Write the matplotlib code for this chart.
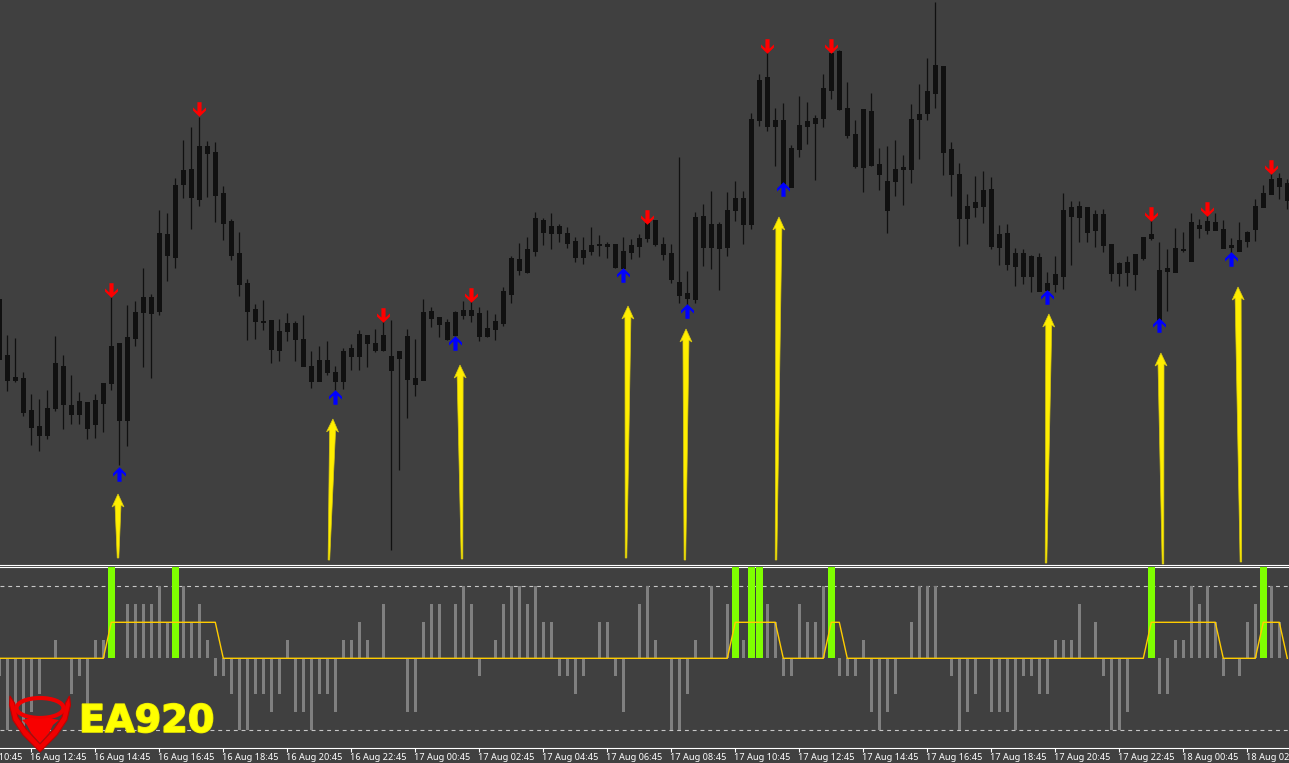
import numpy as np
import matplotlib
matplotlib.use("Agg")
import matplotlib.pyplot as plt
import matplotlib.patheffects as pe
from matplotlib.path import Path
from matplotlib.patches import Ellipse, Polygon

W, H = 1289, 763
BG = "#404040"
CANDLE = "#101010"

# price readings, measured downward from the top of the chart (one bar every 15 min)
wick_high = [
    299, 335, 338, 372, 394, 399, 390, 336, 355, 375,
    392, 402, 394, 383, 297, 343, 305, 301, 268, 294,
    210, 213, 178, 140, 127, 117, 141, 142, 186, 219,
    232, 279, 304, 300, 320, 319, 313, 321, 315, 351,
    346, 341, 366, 348, 344, 330, 335, 329, 320, 320,
    351, 329, 339, 299, 307, 317, 319, 311, 301, 297,
    307, 310, 314, 287, 256, 243, 237, 212, 218, 213,
    224, 227, 237, 237, 227, 235, 242, 244, 237, 239,
    234, 223, 220, 237, 244, 157, 271, 212, 204, 191,
    222, 192, 181, 191, 113, 74, 52, 108, 103, 145,
    96, 102, 115, 74, 52, 50, 82, 120, 109, 93,
    148, 146, 140, 155, 104, 84, 58, 2, 66, 142,
    163, 194, 176, 171, 177, 225, 224, 248, 249, 255,
    253, 272, 256, 193, 201, 201, 207, 210, 209, 244,
    262, 256, 254, 237, 220, 242, 249, 228, 232, 213,
    219, 215, 213, 220, 238, 222, 231, 199, 185, 173,
    173, 179,
]
body_top = [
    299, 355, 377, 378, 410, 426, 408, 363, 366, 405,
    401, 402, 400, 383, 346, 343, 337, 312, 297, 297,
    233, 234, 185, 170, 169, 146, 146, 152, 193, 221,
    253, 283, 309, 321, 320, 331, 323, 323, 339, 366,
    360, 360, 372, 351, 348, 334, 335, 343, 335, 356,
    351, 336, 378, 312, 311, 317, 322, 312, 310, 310,
    313, 328, 321, 291, 258, 259, 249, 218, 220, 226,
    226, 233, 241, 250, 245, 244, 244, 244, 251, 245,
    238, 223, 220, 244, 253, 282, 293, 217, 216, 224,
    224, 210, 198, 198, 119, 80, 77, 120, 120, 148,
    125, 121, 118, 88, 53, 51, 108, 134, 109, 111,
    164, 181, 169, 167, 119, 114, 91, 65, 66, 149,
    174, 206, 202, 190, 189, 234, 233, 253, 253, 256,
    257, 283, 274, 210, 207, 206, 207, 214, 214, 244,
    263, 262, 254, 237, 234, 270, 268, 248, 249, 222,
    225, 221, 222, 229, 245, 240, 232, 206, 193, 179,
    178, 183,
]
body_bottom = [
    359, 380, 380, 412, 427, 435, 435, 408, 404, 414,
    414, 428, 424, 403, 383, 420, 420, 338, 312, 313,
    311, 255, 257, 184, 197, 199, 153, 195, 223, 255,
    284, 311, 321, 322, 349, 350, 331, 339, 366, 381,
    381, 372, 381, 381, 356, 356, 343, 350, 350, 370,
    358, 379, 384, 380, 318, 324, 339, 335, 315, 315,
    336, 336, 329, 323, 294, 270, 272, 251, 232, 233,
    233, 243, 257, 257, 251, 245, 246, 267, 268, 252,
    246, 238, 244, 254, 279, 295, 298, 299, 247, 247,
    248, 247, 210, 224, 224, 120, 126, 126, 185, 187,
    149, 126, 123, 118, 90, 109, 135, 166, 167, 165,
    174, 210, 181, 169, 169, 119, 113, 93, 152, 174,
    218, 218, 207, 206, 246, 247, 264, 266, 276, 276,
    291, 290, 284, 276, 216, 217, 232, 230, 245, 273,
    273, 272, 274, 258, 238, 320, 271, 272, 250, 261,
    228, 230, 230, 248, 247, 251, 241, 229, 207, 194,
    186, 200,
]
wick_low = [
    359, 391, 382, 416, 445, 451, 439, 411, 429, 424,
    424, 439, 438, 432, 390, 465, 446, 346, 367, 378,
    315, 281, 268, 198, 229, 206, 197, 222, 240, 260,
    296, 340, 339, 330, 363, 361, 341, 361, 366, 388,
    381, 375, 390, 389, 370, 370, 367, 352, 351, 550,
    470, 418, 396, 380, 327, 337, 340, 336, 319, 322,
    341, 337, 340, 326, 303, 275, 273, 256, 245, 249,
    242, 248, 262, 264, 255, 256, 258, 268, 268, 259,
    257, 242, 246, 260, 283, 303, 305, 303, 266, 269,
    290, 256, 221, 244, 229, 126, 131, 166, 185, 187,
    157, 144, 180, 127, 99, 110, 138, 168, 192, 166,
    190, 233, 196, 205, 183, 159, 120, 108, 175, 196,
    246, 244, 217, 223, 249, 265, 270, 286, 284, 292,
    291, 292, 292, 289, 265, 242, 242, 247, 252, 281,
    286, 286, 290, 260, 240, 320, 311, 272, 252, 261,
    238, 234, 230, 248, 253, 251, 247, 241, 207, 194,
    199, 209,
]

# signal arrows
sell_bars = [14, 25, 48, 59, 81, 96, 104, 144, 151, 159]
sell_levels = [290, 109, 315, 295, 217, 46, 46, 214, 209, 167]
buy_bars = [15, 42, 57, 78, 86, 98, 131, 145, 154]
buy_levels = [474, 397, 343, 275, 311, 189, 297, 325, 259]

# yellow hand drawn arrows
note_tail_bar = [14.84, 41.2, 57.84, 78.34, 85.7, 97.09, 130.84, 145.46, 155.2]
note_tail_level = [558, 560, 559, 558, 560, 560, 563, 564, 562]
note_tip_bar = [14.84, 41.7, 57.59, 78.59, 85.84, 97.46, 131.2, 145.2, 154.84]
note_tip_level = [494, 419, 365, 306, 329, 217, 314, 353, 287]

# lower panel
hist_values = [
    -1, -4, -3, -4, -3, -2, 0, 1, 0, -2,
    -1, -3, 1, 1, 0, 0, 3, 3, 3, 3,
    4, 2, 0, 4, 2, 3, 1, -1, -1, -2,
    -4, -4, -2, -2, -3, -2, 1, -3, -3, -4,
    -2, -2, -3, 1, 1, 2, 1, 0, 3, 0,
    0, -3, -3, 2, 3, 3, 0, 3, 4, 3,
    -1, 0, 1, 3, 4, 4, 3, 4, 2, 2,
    -1, -1, -2, -1, 0, 2, 2, -1, -3, 0,
    3, 4, 1, 0, -4, -4, -2, 1, 0, 4,
    0, 3, 0, 1, 0, 0, 3, 2, -1, -1,
    3, 2, 2, 4, 0, -1, -1, -1, 1, -3,
    -4, -3, -2, 0, 2, 4, 4, 4, 0, -1,
    -4, -3, -2, 0, -3, -3, -3, -4, -1, -1,
    -2, -2, 1, 1, 1, 3, 0, 2, -1, -4,
    -4, -3, 0, 0, 0, -2, -2, 1, 1, 4,
    3, 4, 2, -1, 0, -1, 2, 3, 0, 4,
    2, 0,
]
trend_line = [
    0, 0, 0, 0, 0, 0, 0, 0, 0, 0,
    0, 0, 0, 0, 2, 2, 2, 2, 2, 2,
    2, 2, 2, 2, 2, 2, 2, 2, 0, 0,
    0, 0, 0, 0, 0, 0, 0, 0, 0, 0,
    0, 0, 0, 0, 0, 0, 0, 0, 0, 0,
    0, 0, 0, 0, 0, 0, 0, 0, 0, 0,
    0, 0, 0, 0, 0, 0, 0, 0, 0, 0,
    0, 0, 0, 0, 0, 0, 0, 0, 0, 0,
    0, 0, 0, 0, 0, 0, 0, 0, 0, 0,
    0, 0, 2, 2, 2, 2, 2, 2, 0, 0,
    0, 0, 0, 0, 2, 2, 0, 0, 0, 0,
    0, 0, 0, 0, 0, 0, 0, 0, 0, 0,
    0, 0, 0, 0, 0, 0, 0, 0, 0, 0,
    0, 0, 0, 0, 0, 0, 0, 0, 0, 0,
    0, 0, 0, 0, 2, 2, 2, 2, 2, 2,
    2, 2, 2, 0, 0, 0, 0, 0, 2, 2,
    2, 0,
]
signal_bars = [14, 22, 92, 94, 95, 104, 144, 158]
signal_height = 5.2
band_levels = [4, -4]

tick_bars = [-4, 4, 12, 20, 28, 36, 44, 52, 60, 68, 76,
             84, 92, 100, 108, 116, 124, 132, 140, 148, 156]
tick_labels = ["16 Aug 10:45", "16 Aug 12:45", "16 Aug 14:45", "16 Aug 16:45",
               "16 Aug 18:45", "16 Aug 20:45", "16 Aug 22:45", "17 Aug 00:45",
               "17 Aug 02:45", "17 Aug 04:45", "17 Aug 06:45", "17 Aug 08:45",
               "17 Aug 10:45", "17 Aug 12:45", "17 Aug 14:45", "17 Aug 16:45",
               "17 Aug 18:45", "17 Aug 20:45", "17 Aug 22:45", "18 Aug 00:45",
               "18 Aug 02:45"]

bars = np.arange(len(wick_high))
body_top = np.array(body_top)
body_bottom = np.array(body_bottom)
hist_values = np.array(hist_values)

fig = plt.figure(figsize=(W / 100, H / 100), dpi=100, facecolor=BG)
plt.rcParams["font.family"] = ["Noto Sans", "DejaVu Sans"]

x_range = ((0 + 0.7) / 8, (W + 0.7) / 8)

# ---- candles
ax = fig.add_axes([0, 1 - 565 / H, 1, 565 / H], facecolor=BG)
ax.set_xlim(*x_range)
ax.set_ylim(565, 0)
ax.vlines(bars, wick_high, wick_low, color=CANDLE, lw=0.9, zorder=2)
ax.bar(bars, body_bottom - body_top + 1, 0.63, bottom=body_top, color=CANDLE, lw=0, zorder=3)

# up/down arrow glyph
up_verts = [(0, 7), (6.2, 1), (6.2, -2), (2, 2), (2, -7), (-2, -7), (-2, 2), (-6.2, -2), (-6.2, 1), (0, 7)]
up_arrow = Path(up_verts, closed=True)
down_arrow = Path([(x, -y) for x, y in up_verts], closed=True)
ax.plot(sell_bars, sell_levels, ls="none", marker=down_arrow, ms=10.5, color="#ff0000", mew=0, zorder=4)
ax.plot(buy_bars, buy_levels, ls="none", marker=up_arrow, ms=10.5, color="#0000ff", mew=0, zorder=4)

# yellow arrows, widths given in pixels (8 px per bar)
for x0, y0, x1, y1 in zip(note_tail_bar, note_tail_level, note_tip_bar, note_tip_level):
    dx, dy = (x1 - x0) * 8, y1 - y0
    n = np.hypot(dx, dy)
    ux, uy = dx / n, dy / n
    px, py = -uy, ux
    along = [0, n - 11, n - 13, n, n - 13, n - 11, 0]
    side = [-0.8, -3, -6, 0, 6, 3, 0.8]
    xs = [x0 + (a * ux + s * px) / 8 for a, s in zip(along, side)]
    ys = [y0 + a * uy + s * py for a, s in zip(along, side)]
    ax.fill(xs, ys, color="#ffee00", ec="#d8c810", lw=0.5, zorder=5)

ax.set_xticks([])
ax.set_yticks([])
for s in ["top", "left", "right"]:
    ax.spines[s].set_visible(False)
ax.spines["bottom"].set_color("white")
ax.spines["bottom"].set_linewidth(0.8)

# ---- indicator panel
ax2 = fig.add_axes([0, 1 - 748 / H, 1, (748 - 567) / H], facecolor=BG)
ax2.set_xlim(*x_range)
ax2.set_ylim((658.3 - 748) / 18, (658.3 - 567) / 18)
ax2.bar(bars, hist_values, 0.42, color="#808080", lw=0, zorder=2)
ax2.bar(signal_bars, [signal_height] * len(signal_bars), 0.875, color="#7fff00", lw=0, zorder=3)
for lv in band_levels:
    ax2.axhline(lv, color="#c8c8c8", lw=0.8, dashes=(3.5, 3.5), zorder=1)
ax2.plot(bars, trend_line, color="#ffcc00", lw=1.0, zorder=4)

ax2.set_yticks([])
ax2.set_xticks(tick_bars[1:])
ax2.set_xticklabels([])
ax2.tick_params(axis="x", color="white", length=3, width=0.8)
for s in ["left", "right"]:
    ax2.spines[s].set_visible(False)
for s in ["top", "bottom"]:
    ax2.spines[s].set_color("white")
    ax2.spines[s].set_linewidth(0.8)

# labels start at their tick, first one runs off the left edge
for b, lab in zip(tick_bars, tick_labels):
    ax2.text(b - 0.15, -9 / 181, lab, transform=ax2.get_xaxis_transform(), ha="left", va="center",
             color="white", fontsize=6.6, clip_on=False)

# ---- EA920 logo, drawn over everything in pixel space
logo = fig.add_axes([0, 0, 1, 1], facecolor="none", zorder=10)
logo.set_xlim(0, W)
logo.set_ylim(H, 0)
logo.axis("off")
shield = [(10, 696), (9.5, 705), (13, 720), (23, 735), (40, 752), (57, 735), (67, 720), (70.5, 705),
          (69.5, 696), (65.5, 703), (62, 717), (54, 729), (40, 744), (26, 729), (18, 717), (14.5, 703)]
logo.add_patch(Polygon(shield, closed=True, fc="#f00000", ec="#c00000", lw=0.8))
logo.add_patch(Ellipse((40, 708), 47, 20, fc="none", ec="#ee0000", lw=3))
bull = [(22, 720), (32, 718), (40, 719), (48, 718), (59, 720), (53, 725), (49, 733), (40, 743), (31, 733), (27, 725)]
logo.add_patch(Polygon(bull, closed=True, fc="#f80000", ec="none"))
logo.text(79, 722, "EA920", color="#ffff00", fontsize=27.5, fontweight="bold",
          family="DejaVu Sans", ha="left", va="center",
          path_effects=[pe.withStroke(linewidth=1.2, foreground="#e8e800")])

fig.savefig("out.png", dpi=100, facecolor=BG)
